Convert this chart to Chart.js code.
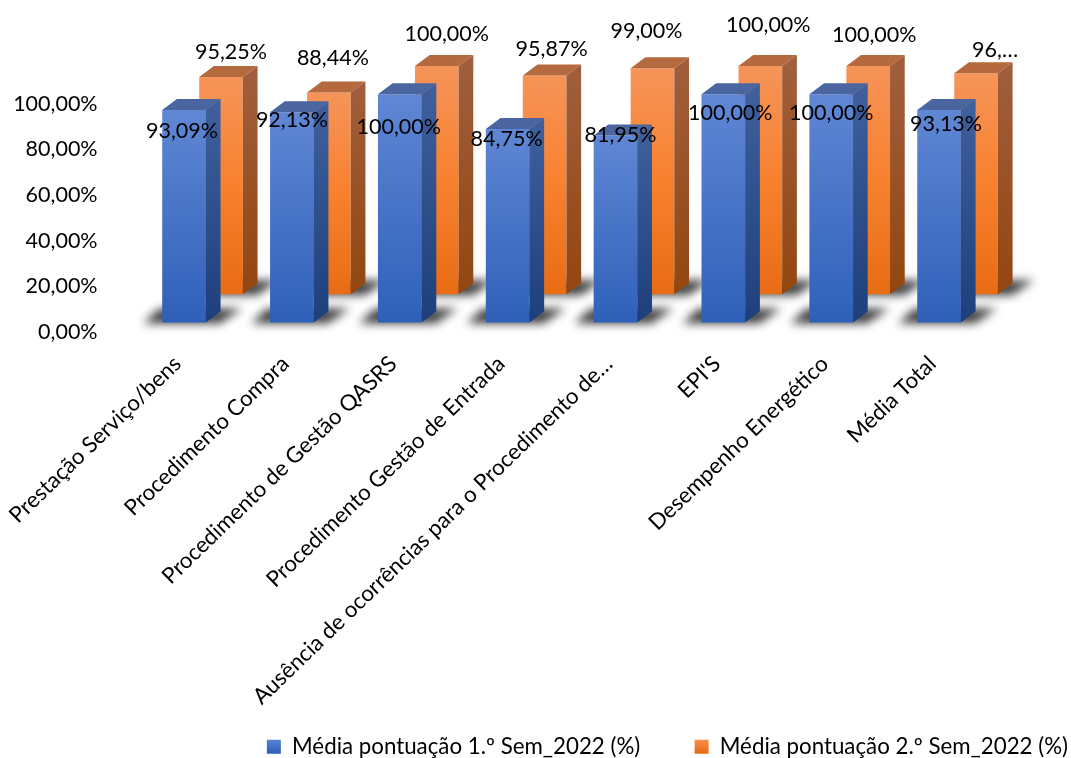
<!DOCTYPE html>
<html><head><meta charset="utf-8">
<style>html,body{margin:0;padding:0;background:#fff}canvas{display:block}</style>
<script src="https://cdn.jsdelivr.net/npm/chart.js@4"></script>
</head><body><canvas id="c" width="1071" height="758"></canvas>
<script>
const categories = ["Prestação Serviço/bens","Procedimento Compra","Procedimento de Gestão QASRS","Procedimento Gestão de Entrada","Ausência de ocorrências para o Procedimento de…","EPI'S","Desempenho Energético","Média Total"];
const sem1Values = [93.09,92.13,100,84.75,81.95,100,100,93.13];
const sem2Values = [95.25,88.44,100,95.87,99,100,100,96.8];
const sem1Labels = ["93,09%","92,13%","100,00%","84,75%","81,95%","100,00%","100,00%","93,13%"];
const sem2Labels = ["95,25%","88,44%","100,00%","95,87%","99,00%","100,00%","100,00%","96,…"];
const sem1Name = "Média pontuação 1.º Sem_2022 (%)";
const sem2Name = "Média pontuação 2.º Sem_2022 (%)";
const yTicks = [0,20,40,60,80,100];
const labelShift1 = [[-2,21],[0,8],[-1,33],[-1,10],[5,0],[7,19],[0,19],[7,14]];
const labelShift2 = [[10,-25],[4,-34],[10,-32],[7,-26],[-6,-37],[8,-41],[6,-31],[19,-23]];

const FONT = "Lato";
const FS = 21.5;
const DX = 14.7, DY = 11;
const palette = [
  {front:["#5F87D4","#2F60B9"], side:["#3E5F9B","#1D3F7B"], top:"#4A659F"},
  {front:["#F69459","#F8812E","#E86C14"], side:["#A05E3C","#93460F"], top:"#B4693F"}
];
function frontFill(ctx, ds){
  const c = ctx.chart, i = ctx.dataIndex;
  if (i === undefined || !c.chartArea) return ds===0?"#4472C4":"#ED7D31";
  const axis = c.scales[ds===0?"yFront":"yBack"];
  const vals = ds===0?sem1Values:sem2Values;
  const g = c.ctx.createLinearGradient(0,axis.getPixelForValue(vals[i]),0,axis.getPixelForValue(0));
  const cols = palette[ds].front;
  cols.forEach((col,k)=>g.addColorStop(k/(cols.length-1),col));
  return g;
}
const bars3d = {
  id:"bars3d",
  beforeDatasetsDraw(chart){
    const ctx = chart.ctx;
    ctx.save();
    ctx.filter = "blur(5px)";
    [1,0].forEach(d=>{
      chart.getDatasetMeta(d).data.forEach(b=>{
        const l=b.x-b.width/2, r=b.x+b.width/2, y=b.base;
        ctx.beginPath();
        ctx.moveTo(l-19,y+1);
        ctx.lineTo(l-3,y-14);
        ctx.lineTo(r+36,y-14);
        ctx.lineTo(r+14,y+1);
        ctx.closePath();
        ctx.fillStyle="rgba(30,30,30,0.85)";
        ctx.fill();
      });
    });
    ctx.restore();
  },
  afterDatasetDraw(chart,args){
    const d=args.index, ctx=chart.ctx, p=palette[d];
    ctx.save();
    chart.getDatasetMeta(d).data.forEach(b=>{
      const l=b.x-b.width/2, r=b.x+b.width/2, t=b.y, y=b.base;
      const g=ctx.createLinearGradient(0,t,0,y);
      g.addColorStop(0,p.side[0]); g.addColorStop(1,p.side[1]);
      ctx.fillStyle=g;
      ctx.beginPath();
      ctx.moveTo(r,t);ctx.lineTo(r+DX,t-DY);ctx.lineTo(r+DX,y-DY);ctx.lineTo(r,y);ctx.closePath();ctx.fill();
      ctx.fillStyle=p.top;
      ctx.beginPath();
      ctx.moveTo(l,t);ctx.lineTo(l+DX,t-DY);ctx.lineTo(r+DX,t-DY);ctx.lineTo(r,t);ctx.closePath();ctx.fill();
    });
    ctx.restore();
  },
  afterDatasetsDraw(chart){
    const ctx=chart.ctx;
    ctx.save();
    ctx.font=FS+"px "+FONT;
    ctx.fillStyle="#000";
    ctx.textAlign="center";
    ctx.textBaseline="middle";
    [[1,sem2Labels,labelShift2],[0,sem1Labels,labelShift1]].forEach(([d,txt,sh])=>{
      chart.getDatasetMeta(d).data.forEach((b,i)=>{
        ctx.fillText(txt[i],b.x+sh[i][0],b.y+sh[i][1]);
      });
    });
    ctx.restore();
  }
};
const noPad = s=>{s.paddingLeft=0;s.paddingRight=0;s.paddingTop=0;s.paddingBottom=0;};
new Chart(document.getElementById("c"),{
  type:"bar",
  plugins:[bars3d],
  data:{labels:categories,datasets:[
    {label:sem1Name,data:sem1Values,yAxisID:"yFront",clip:false,backgroundColor:c=>frontFill(c,0),categoryPercentage:0.686,barPercentage:1.18},
    {label:sem2Name,data:sem2Values,yAxisID:"yBack",clip:false,backgroundColor:c=>frontFill(c,1),categoryPercentage:0.686,barPercentage:1.18}
  ]},
  options:{
    responsive:false,animation:false,devicePixelRatio:1,
    layout:{padding:{top:104,left:0,right:0,bottom:-10}},
    plugins:{
      tooltip:{enabled:false},
      legend:{position:"bottom",align:"end",
        labels:{boxWidth:14,boxHeight:14,padding:3,color:"#000",font:{family:FONT,size:22.3},
          generateLabels(chart){
            const c=chart.ctx;
            return [[sem1Name+"\u00a0".repeat(9),["#5A84D4","#2F60B9"],0],[sem2Name,["#F8924E","#E86C14"],1]].map(([t,cols,i])=>{
              const g=c.createLinearGradient(0,739,0,753);
              g.addColorStop(0,cols[0]);g.addColorStop(1,cols[1]);
              return {text:t,fillStyle:g,strokeStyle:"rgba(0,0,0,0)",lineWidth:0,datasetIndex:i,fontColor:"#000"};
            });
          }
        }
      }
    },
    scales:{
      x:{type:"category",offset:true,grid:{display:false},border:{display:false},
        ticks:{autoSkip:false,maxRotation:44,minRotation:44,labelOffset:-25,padding:11,color:"#000",font:{family:FONT,size:22.2}},
        afterFit(s){s.height=401;noPad(s);}
      },
      y:{position:"left",min:0,max:100,grid:{display:false},border:{display:false},
        afterBuildTicks(s){s.ticks=yTicks.map(v=>({value:v}));},
        ticks:{padding:43,color:"#000",font:{family:FONT,size:FS},callback:v=>v.toFixed(2).replace(".",",")+"%"},
        afterFit(s){s.width=148.6;noPad(s);}
      },
      yFront:{display:false,min:-4.07,max:95.71},
      yBack:{position:"right",display:true,min:-16.41,max:83.37,grid:{display:false},border:{display:false},ticks:{display:false},
        afterFit(s){s.width=59.5;noPad(s);}
      }
    }
  }
});
</script></body></html>
